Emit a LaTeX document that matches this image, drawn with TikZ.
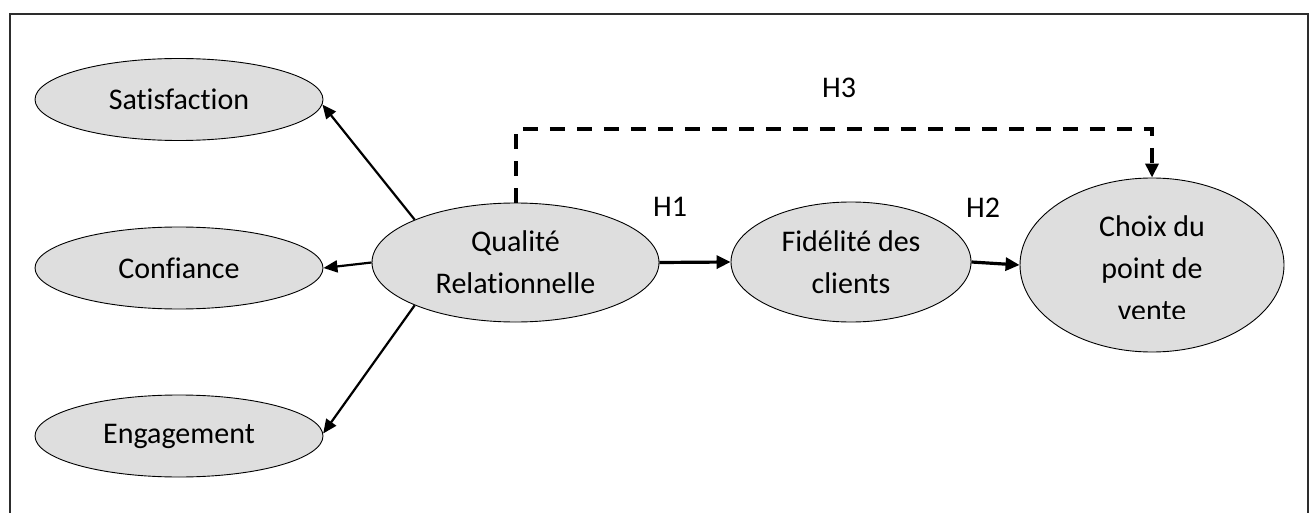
\documentclass[tikz,border=0pt]{standalone}
\usepackage{fontspec}
\setmainfont[Ligatures={NoCommon}]{Carlito}
\usetikzlibrary{arrows.meta,shapes.geometric}
\definecolor{fillgray}{RGB}{222,222,222}
\definecolor{framegray}{RGB}{45,45,45}
\begin{document}
\begin{tikzpicture}[x=1pt,y=-1pt,
  txt/.style={font=\fontsize{30}{42}\selectfont, align=center, inner sep=0pt},
  construct/.style={ellipse, draw=black, line width=0.9pt, fill=fillgray, inner sep=0pt, txt},
  link/.style={-{Triangle[length=14pt,width=12pt]}, line width=2.2pt},
  mainlink/.style={-{Triangle[length=14pt,width=13pt]}, line width=3.2pt},
  directlink/.style={-{Triangle[length=14pt,width=13pt]}, line width=4pt, dash pattern=on 15pt off 12pt},
  hyp/.style={txt}
]
\useasboundingbox (0,0) rectangle (1311,513);

% open frame around the model
\draw[framegray, line width=2pt] (10,513) -- (10,14) -- (1308,14) -- (1308,513);

% dimensions of relationship quality
\node[construct, minimum width=288pt, minimum height=82pt] (sat) at (179,99.5) {Satisfaction};
\node[construct, minimum width=288pt, minimum height=82pt] (conf) at (179,268) {Confiance};
\node[construct, minimum width=288pt, minimum height=82pt] (eng) at (179,436) {Engagement};

% main constructs
\node[construct, minimum width=287pt, minimum height=119pt] (qr) at (515.5,262.5) {Qualité\\Relationnelle};
\node[construct, minimum width=240pt, minimum height=120pt] (fid) at (851,262) {Fidélité des\\clients};
\node[construct, minimum width=264pt, minimum height=174pt] (choix) at (1152,265) {};
\begin{scope}
  \clip (1030,180) rectangle (1275,318);
  \node[txt] (choixtxt) at (1152,268.5) {Choix du\\point de\\vente};
\end{scope}

% hypothesis labels
\node[hyp] (h1) at (670,207) {H1};
\node[hyp] (h2) at (983,208) {H2};
\node[hyp] (h3) at (839,88) {H3};

% reflective links
\draw[link] (qr.157.6) -- (sat.-2.4);
\draw[link] (qr.west) -- (conf.east);
\draw[link] (qr.-157.1) -- (eng.1.6);

% hypotheses
\draw[mainlink] (qr.east) -- (fid.west);
\draw[mainlink] (fid.east) -- (choix.west);
\coordinate (corner) at (1152,129);
\draw[directlink] (qr.north) -- (qr.north |- corner) -- (corner) -- (choix.north);
\end{tikzpicture}
\end{document}
